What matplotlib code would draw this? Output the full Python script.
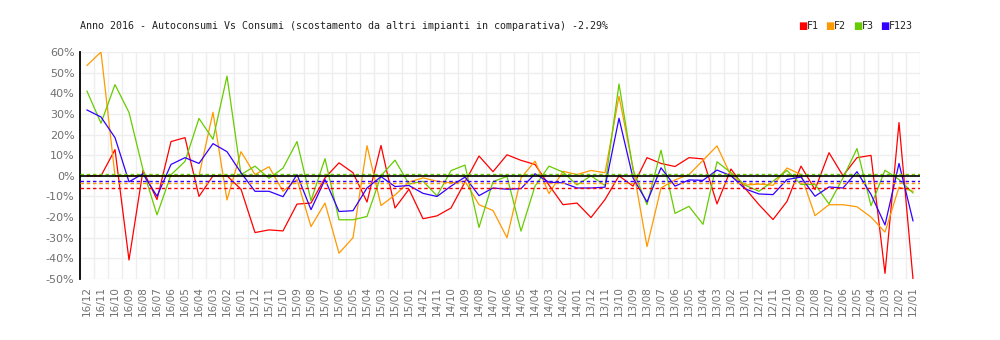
import numpy as np
import matplotlib
matplotlib.use("Agg")
from matplotlib import pyplot as plt

# months from 16/12 back to 12/01
months = ['%02d/%02d' % (y, m) for y in range(16, 11, -1) for m in range(12, 0, -1)]

f1 = [0, 0, 12.7, -40.8, 2.6, -11.5, 16.6, 18.5, -10, 0,
      0, -6.5, -27.5, -26.2, -26.7, -13.7, -13.2, -1, 6.3, 1.5,
      -12.7, 14.7, -15.6, -6.5, -20.8, -19.4, -15.6, -3, 9.6, 2,
      10.2, 7.5, 5.5, -4.5, -14, -13.2, -20.2, -11.5, 0, -5,
      8.8, 6, 4.5, 8.8, 8.2, -13.6, 3.3, -6, -14, -21.2,
      -12.4, 4.7, -6.7, 11.2, 0, 8.8, 9.9, -47.3, 25.8, -50]
f2 = [53.5, 60, 0, 0, 0, 0, 0, 0, 0, 30.8,
      -11.7, 11.7, 0.6, 4.4, -7.5, -1.8, -24.6, -13.2, -37.5, -30,
      14.6, -14.4, -9.3, -3, -1, -2.6, -3.4, -2.6, -14, -16.8,
      -30, -1, 7.1, -8.6, 2.2, 0.6, 2.6, 1.5, 38.6, 4,
      -34.3, -5.9, -2, 0.6, 7.5, 14.5, 0, -4.5, -4, -4.6,
      3.8, 0.6, -19.3, -14, -14, -15, -20, -27.3, -5.5, -7.5]
f3 = [41, 25.5, 44.2, 30.7, 3, -18.9, 0.5, 7, 27.8, 17.7,
      48.3, 0.6, 4.7, -1.2, 3.7, 16.6, -12, 8.3, -21.3, -21.3,
      -19.7, 0, 7.6, -4, -2.6, -9.7, 2.5, 5.2, -25, -2.8,
      -0.3, -26.8, -5, 4.7, 1.8, -4.4, 0, -4.7, 44.5, 3,
      -14, 12.4, -18.2, -14.8, -23.5, 6.8, 1.5, -4.5, -7.5, -2.6,
      2.6, -4.2, -4.2, -13.6, -1, 13.2, -14.5, 2.7, -1.8, -8.3]
f123 = [31.9, 28.5, 18.5, -2.9, 1, -9.9, 5.5, 8.8, 6, 15.6,
        11.7, 1.5, -7.5, -7.5, -10.1, 0.6, -16.4, -1.8, -17.3, -16.9,
        -5.9, -0.4, -5.2, -4.7, -8.5, -10, -5, -0.6, -9.6, -5.9,
        -6.5, -6.2, 1, -3.1, -3.4, -5.9, -5.9, -5.5, 27.9, -1,
        -12.7, 3.9, -5, -2, -2.2, 2.8, 0, -6.3, -8.8, -9.1,
        -1.8, -0.6, -9.9, -5.4, -5.9, 2, -9, -23.8, 6, -21.8]

names = ['F1', 'F2', 'F3', 'F123']
averages = [-5.85, -3.4, 1.0, -2.29]
colors = ['#ff0000', '#ff9900', '#66cc00', '#3300ff']

title = 'Anno 2016 - Autoconsumi Vs Consumi (scostamento da altri impianti in comparativa) -2.29%'

fig = plt.figure(figsize=(10, 3.4), dpi=100)
ax = fig.add_axes([0.08, 61 / 340, 0.84, 227 / 340])

x = np.arange(len(months)) + 0.5
for serie, c in zip([f1, f2, f3, f123], colors):
    ax.plot(x, serie, color=c, lw=0.9, zorder=3)

for avg, c in zip(averages, colors):
    ax.axhline(avg, color=c, lw=1.0, dashes=(2.5, 2), zorder=4)
ax.axhline(0, color='black', lw=1.2, zorder=5)

ax.set_xlim(0, len(months))
ax.set_ylim(-50, 60)
ax.set_xticks(x)
ax.set_xticklabels(months, rotation=90)
ax.set_xticks(np.arange(len(months) + 1), minor=True)
yt = np.arange(-50, 61, 10)
ax.set_yticks(yt)
ax.set_yticklabels(['%d%%' % v for v in yt])

ax.grid(True, which='minor', axis='x', color='#eeeeee', lw=1)
ax.grid(True, which='major', axis='y', color='#eeeeee', lw=1)
ax.set_axisbelow(True)

for s in ['top', 'right', 'bottom']:
    ax.spines[s].set_visible(False)
ax.spines['left'].set_linewidth(1.3)
ax.tick_params(which='both', length=0)
ax.tick_params(axis='y', pad=4, labelsize=8, labelcolor='#707070')
ax.tick_params(axis='x', pad=5, labelsize=7.5, labelcolor='#707070')

fig.text(0.08, 1 - 26 / 340, title, family='DejaVu Sans Mono', fontsize=7.2,
         va='center', color='#222222')

# legend squares across the top right
lx = 0.798
for name, c in zip(names, colors):
    fig.text(lx, 1 - 26 / 340, '\u25a0', color=c, fontsize=7, va='center',
             family='DejaVu Sans')
    fig.text(lx + 0.0085, 1 - 26 / 340, name, family='DejaVu Sans Mono',
             fontsize=7.2, va='center', color='#222222')
    lx += 0.0275

fig.savefig('out.png', dpi=100)
